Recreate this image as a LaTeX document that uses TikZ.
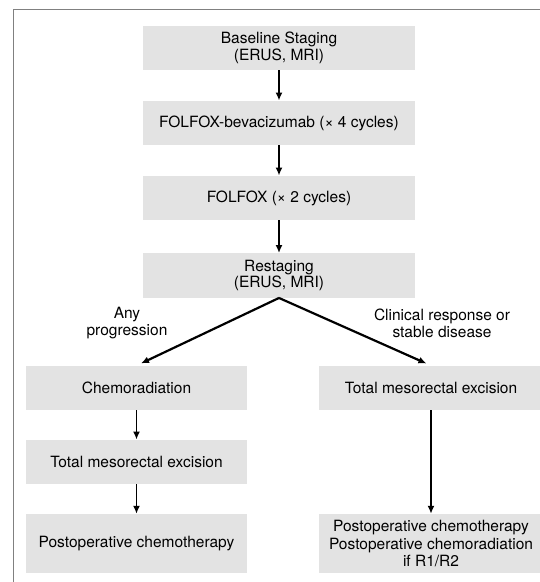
\documentclass[tikz,border=0pt]{standalone}
\usepackage{fontspec}
\setmainfont{TeX Gyre Heros}
\usepackage{tikz}
\usetikzlibrary{positioning,arrows.meta}

\definecolor{boxgrey}{HTML}{E3E3E3}
\tikzset{
	stagebox/.style={fill=boxgrey, inner sep=0pt, minimum width=272pt, minimum height=44.5pt,
		align=center, font=\fontsize{15.5}{16.7}\selectfont},
	sidebox/.style={stagebox, minimum width=221pt},
	tag/.style={align=center, font=\fontsize{15.5}{16.7}\selectfont},
	flow/.style={-{Latex[length=8pt,width=7pt]}, line width=1.9pt},
}

\begin{document}
\begin{tikzpicture}[x=1pt,y=-1pt]
		\useasboundingbox (0,0) rectangle (540,582);
		\draw[gray, line width=1pt] (540,9) -- (13,9) -- (13,582);

		\node[stagebox] (base) at (279,47.8) {Baseline Staging\\(ERUS, MRI)};
		\node[stagebox] (bev) at (279,123) {FOLFOX-bevacizumab (× 4 cycles)};
		\node[stagebox] (folfox) at (279,198) {FOLFOX (× 2 cycles)};
		\node[stagebox] (restage) at (279,275.5) {Restaging\\(ERUS, MRI)};

		\node[sidebox] (chemo) at (136.5,388) {Chemoradiation};
		\node[sidebox] (tmeL) at (136.5,462) {Total mesorectal excision};
		\node[sidebox, minimum height=59pt] (postL) at (136.5,543.5) {Postoperative chemotherapy};

		\node[sidebox, minimum width=224pt] (tmeR) at (431,388) {Total mesorectal excision};
		\node[sidebox, minimum width=224pt, minimum height=59pt, font=\fontsize{15.5}{17.5}\selectfont] (postR) at (431,543.5)
			{Postoperative chemotherapy\\Postoperative chemoradiation\\if R1/R2};

		\node[tag] (prog) at (127,323) {Any\\progression};
		\node[tag] (resp) at (442,323) {Clinical response or\\stable disease};

		\draw[flow] (base) -- (bev);
		\draw[flow] (bev) -- (folfox);
		\draw[flow] (folfox) -- (restage);
		\draw[flow, line width=2.2pt, shorten >=5pt] (restage.south) -- (chemo.north);
		\draw[flow, line width=2.2pt, shorten >=5pt] (restage.south) -- (tmeR.north);
		\draw[flow] (chemo) -- (tmeL);
		\draw[flow] (tmeL) -- (postL);
		\draw[flow] (tmeR) -- (postR);
	\end{tikzpicture}
\end{document}
